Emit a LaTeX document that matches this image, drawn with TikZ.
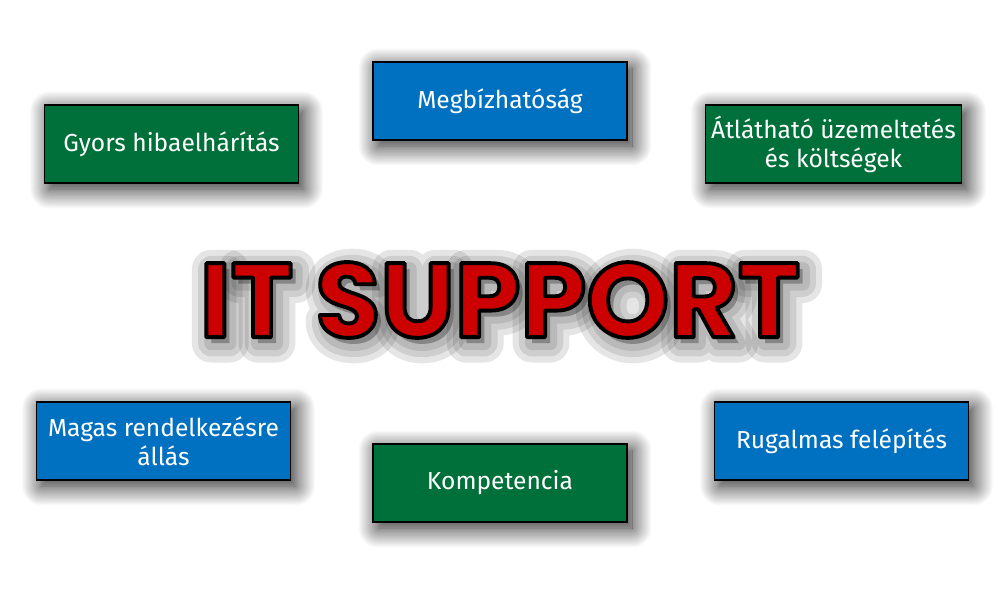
\documentclass[tikz,border=0pt]{standalone}
\usepackage{fontspec}
\setmainfont{Fira Sans}
\newfontfamily\titlefont{Poppins}
\usepackage{tikz}
\usetikzlibrary{shadows.blur}
\definecolor{BoxBlue}{RGB}{0,112,192}
\definecolor{BoxGreen}{RGB}{0,112,58}
\definecolor{TitleRed}{RGB}{204,0,0}
% text outline through the pdf text render mode
\newcommand\outlinetext[3]{%
  \special{pdf:literal #1 Tr #2 w 1 j}#3\special{pdf:literal 0 Tr 1 w 0 j}}
\tikzset{
  featbox/.style={draw=black,line width=0.9pt,text=white,
    minimum width=5.08cm,minimum height=1.56cm,align=center,
    font=\fontsize{14}{16.5}\selectfont,
    blur shadow={shadow xshift=0.1cm,shadow yshift=-0.12cm,
      shadow blur radius=0.4cm,shadow blur steps=24,shadow opacity=90}},
  bluebox/.style={featbox,fill=BoxBlue},
  greenbox/.style={featbox,fill=BoxGreen},
  titletext/.style={font=\titlefont\bfseries\fontsize{60}{60}\selectfont},
}

\begin{document}
\begin{tikzpicture}
  \useasboundingbox (0,0) rectangle (20,-12);
  % soft glow behind the title
  \foreach \len in {22,15,8}{
    \begin{scope}[opacity=0.1]
      \node[titletext,text=black] (glow\len) at (10.1,-6.12)
        {\outlinetext{2}{\len}{IT SUPPORT}};
    \end{scope}
  }
  \node[titletext,text=TitleRed] (title) at (10,-6)
    {\special{pdf:literal 0 0 0 RG}\outlinetext{2}{2.2}{IT SUPPORT}};
  % boxes
  \node[bluebox]  (reliab)  at (10,-2.02)    {Megbízhatóság};
  \node[greenbox] (repair)  at (3.43,-2.88)  {Gyors hibaelhárítás};
  \node[greenbox] (transp)  at (16.67,-2.88) {Átlátható üzemeltetés\\és költségek};
  \node[bluebox]  (avail)   at (3.27,-8.82)  {Magas rendelkezésre\\állás};
  \node[greenbox] (compet)  at (10,-9.66)    {Kompetencia};
  \node[bluebox]  (flex)    at (16.83,-8.82) {Rugalmas felépítés};
\end{tikzpicture}
\end{document}
